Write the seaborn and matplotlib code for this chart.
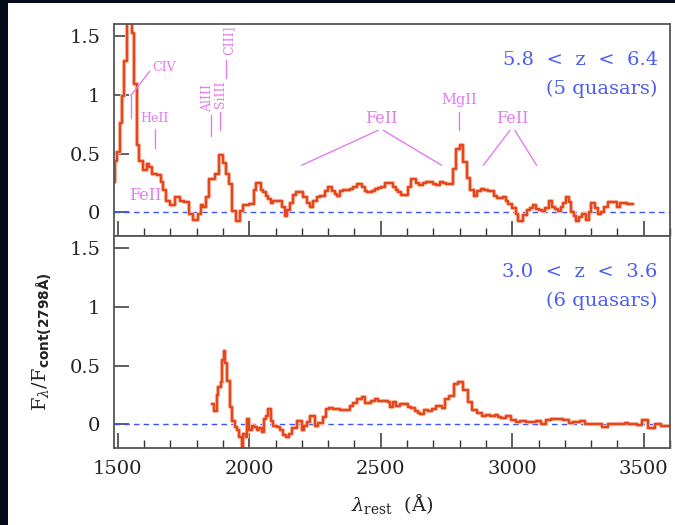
import matplotlib
matplotlib.use("Agg")
import matplotlib.pyplot as plt
import matplotlib.patheffects as pe
from matplotlib.patches import Rectangle
from matplotlib.ticker import MultipleLocator, FixedLocator, FixedFormatter
import seaborn as sns
import pandas as pd

# ---------------- data (left bin edges, composite flux) ----------------
top_wave = [1478, 1488, 1498, 1508, 1516, 1525, 1536, 1555, 1563, 1572, 1582, 1597,
            1610, 1619, 1629, 1648, 1664, 1673, 1682, 1698, 1717, 1737, 1753, 1772,
            1785, 1806, 1816, 1824, 1834, 1846, 1870, 1884, 1900, 1911, 1924, 1934,
            1950, 1966, 1975, 2000, 2018, 2026, 2043, 2053, 2064, 2072, 2081, 2091,
            2123, 2136, 2145, 2155, 2167, 2178, 2205, 2218, 2231, 2244, 2256, 2269,
            2288, 2301, 2313, 2326, 2335, 2345, 2358, 2383, 2396, 2408, 2427, 2440,
            2449, 2465, 2478, 2491, 2503, 2516, 2548, 2558, 2567, 2579, 2605, 2617,
            2634, 2647, 2662, 2674, 2700, 2712, 2725, 2738, 2750, 2773, 2788, 2801,
            2814, 2829, 2839, 2854, 2867, 2880, 2892, 2909, 2930, 2943, 2966, 2976,
            2985, 2998, 3014, 3023, 3042, 3055, 3067, 3080, 3092, 3102, 3115, 3124,
            3140, 3153, 3162, 3175, 3184, 3194, 3204, 3217, 3225, 3234, 3244, 3255,
            3267, 3280, 3293, 3301, 3314, 3327, 3336, 3348, 3365, 3381, 3399, 3409,
            3424, 3437]
top_flux = [0.26, 0.44, 0.51, 0.76, 0.99, 1.29, 1.75, 1.52, 1.09, 0.57, 0.44, 0.36,
            0.41, 0.39, 0.33, 0.32, 0.26, 0.19, 0.10, 0.06, 0.13, 0.10, 0.09, -0.01,
            -0.065, -0.01, 0.06, 0.05, 0.13, 0.28, 0.33, 0.49, 0.42, 0.33, 0.24, 0.01,
            -0.07, 0.01, 0.06, 0.07, 0.19, 0.25, 0.19, 0.17, 0.14, 0.11, 0.08, 0.10,
            0.05, -0.03, 0.02, 0.08, 0.15, 0.17, 0.13, 0.08, 0.05, 0.10, 0.13, 0.14,
            0.18, 0.22, 0.18, 0.16, 0.14, 0.18, 0.19, 0.20, 0.22, 0.24, 0.22, 0.18,
            0.17, 0.18, 0.20, 0.21, 0.22, 0.25, 0.22, 0.19, 0.17, 0.15, 0.22, 0.28,
            0.25, 0.23, 0.25, 0.26, 0.24, 0.23, 0.26, 0.25, 0.24, 0.37, 0.54, 0.57,
            0.43, 0.29, 0.19, 0.14, 0.18, 0.20, 0.19, 0.18, 0.14, 0.12, 0.13, 0.10,
            0.07, 0.04, -0.01, -0.07, -0.02, 0.02, 0.04, 0.06, 0.03, 0.025, 0.015, 0.04,
            0.10, 0.05, 0.03, 0.015, 0.05, 0.08, 0.13, 0.09, 0.005, -0.03, -0.07, -0.04,
            -0.01, -0.065, 0.0, 0.08, 0.04, -0.01, 0.0, 0.05, 0.085, 0.09, 0.05, 0.08,
            0.08, 0.07]
top_end = 3460

bot_wave = [1859, 1867, 1876, 1882, 1891, 1897, 1904, 1909, 1916, 1927, 1935, 1946,
            1952, 1962, 1971, 1977, 1986, 1990, 2000, 2009, 2018, 2028, 2038, 2047,
            2056, 2063, 2072, 2081, 2091, 2104, 2117, 2127, 2139, 2152, 2161, 2180,
            2190, 2199, 2208, 2218, 2231, 2250, 2262, 2281, 2292, 2304, 2319, 2332,
            2345, 2357, 2370, 2383, 2396, 2411, 2427, 2440, 2453, 2462, 2478, 2491,
            2529, 2535, 2545, 2558, 2573, 2605, 2617, 2630, 2643, 2649, 2664, 2681,
            2694, 2710, 2719, 2732, 2744, 2761, 2778, 2795, 2814, 2833, 2849, 2867,
            2884, 2900, 2915, 2934, 2947, 2956, 2976, 2997, 3014, 3029, 3054, 3090,
            3111, 3130, 3149, 3194, 3217, 3232, 3257, 3276, 3321, 3340, 3365, 3428,
            3441, 3454, 3475, 3495, 3517, 3542, 3564]
bot_flux = [0.17, 0.11, 0.25, 0.32, 0.36, 0.55, 0.62, 0.52, 0.37, 0.15, 0.03, -0.02,
            -0.05, -0.11, -0.25, -0.08, -0.11, 0.05, -0.05, -0.01, -0.02, -0.05, -0.03, -0.065,
            0.05, 0.07, 0.13, 0.03, -0.01, -0.02, -0.05, -0.09, -0.11, -0.08, -0.03, 0.03,
            0.03, -0.05, -0.01, 0.02, 0.07, -0.01, 0.01, 0.06, 0.13, 0.14, 0.13, 0.13,
            0.12, 0.12, 0.12, 0.16, 0.18, 0.22, 0.23, 0.18, 0.18, 0.20, 0.22, 0.20,
            0.19, 0.15, 0.19, 0.16, 0.17, 0.15, 0.14, 0.11, 0.10, 0.09, 0.12, 0.11,
            0.13, 0.16, 0.155, 0.14, 0.22, 0.24, 0.34, 0.36, 0.29, 0.19, 0.12, 0.10,
            0.07, 0.08, 0.07, 0.08, 0.06, 0.055, 0.07, 0.04, 0.02, 0.03, 0.02, 0.03,
            0.00, 0.04, 0.05, 0.04, 0.01, 0.02, 0.03, 0.005, 0.0, -0.02, 0.006, 0.01,
            0.005, 0.0, -0.005, 0.035, -0.03, 0.005, -0.015]
bot_end = 3610

panel_text = [("5.8  <  z  <  6.4", "(5 quasars)"), ("3.0  <  z  <  3.6", "(6 quasars)")]
yticks = [0, 0.5, 1, 1.5]
ytick_labels = ["0", "0.5", "1", "1.5"]

# ---------------- style ----------------
sns.set_theme(style="ticks")
plt.rcParams["font.family"] = ["DejaVu Serif"]
plt.rcParams["mathtext.fontset"] = "custom"
plt.rcParams["mathtext.rm"] = "DejaVu Serif"
plt.rcParams["mathtext.it"] = "DejaVu Serif:italic"
plt.rcParams["mathtext.bf"] = "DejaVu Sans:bold"

DARK = "#050a1c"
SPEC = "#e5461b"
HALO = "#f8c2ad"
BLUE = "#4b5cf2"
VIOL = "#e47cf0"
SPINE = "#555555"

W, H = 675, 525
fig = plt.figure(figsize=(W / 100, H / 100), dpi=100)
fig.patch.set_facecolor(DARK)
fig.add_artist(Rectangle((7.5 / W, 0), 1 - 7.5 / W, 1 - 3 / H, transform=fig.transFigure,
                         facecolor="white", edgecolor="none", zorder=0))

left, right = 114.3 / W, 670 / W
ax_top = fig.add_axes([left, 1 - 236 / H, right - left, 212 / H])
ax_bot = fig.add_axes([left, 1 - 448 / H, right - left, 212 / H])

def spectrum(ax, wave, flux, end):
    df = pd.DataFrame({"wave": list(wave) + [end], "flux": list(flux) + [flux[-1]]})
    sns.lineplot(data=df, x="wave", y="flux", ax=ax, drawstyle="steps-post",
                 color=SPEC, lw=1.7, estimator=None, sort=False,
                 path_effects=[pe.Stroke(linewidth=3.0, foreground=HALO), pe.Normal()])

spectrum(ax_top, top_wave, top_flux, top_end)
spectrum(ax_bot, bot_wave, bot_flux, bot_end)

for ax, (l1, l2) in zip([ax_top, ax_bot], panel_text):
    ax.set_facecolor("white")
    ax.axhline(0, color="#3a55ff", lw=1.0, ls=(0, (4, 3)), zorder=1)
    ax.set_xlim(1487, 3600)
    ax.set_ylim(-0.2, 1.6)
    ax.yaxis.set_major_locator(FixedLocator(yticks))
    ax.yaxis.set_major_formatter(FixedFormatter(ytick_labels))
    ax.xaxis.set_major_locator(MultipleLocator(500))
    ax.xaxis.set_minor_locator(MultipleLocator(100))
    ax.yaxis.set_minor_locator(FixedLocator([]))
    ax.tick_params(axis="both", which="major", direction="in", length=11, width=1.1,
                   color="#333333", labelsize=14, labelcolor="#222222",
                   bottom=True, left=True, top=False, right=False)
    ax.tick_params(axis="x", which="minor", direction="in", length=5.5, width=1.0,
                   color="#333333", bottom=True, top=False)
    ax.tick_params(axis="y", which="major", pad=10)
    ax.tick_params(axis="x", which="major", pad=9)
    for s in ax.spines.values():
        s.set_visible(True)
        s.set_color(SPINE)
        s.set_linewidth(1.3)
    ax.set_xlabel("")
    ax.set_ylabel("")
    ax.text(0.978, 0.830, l1, transform=ax.transAxes, ha="right", va="center",
            fontsize=14, color=BLUE)
    ax.text(0.978, 0.693, l2, transform=ax.transAxes, ha="right", va="center",
            fontsize=14, color=BLUE)

ax_top.tick_params(labelbottom=False)

ax_bot.set_xlabel(r"$\lambda_{\mathrm{rest}}$  (Å)", fontsize=14, color="#222222", labelpad=10)
ax_bot.set_ylabel(r"$\mathrm{F}_{\lambda}/\mathrm{F}_{\mathbf{cont(2798Å)}}$",
                  fontsize=14, color="#222222", labelpad=12)

# ---------------- line identifications (top panel) ----------------
lk = dict(color=VIOL, lw=1.0, zorder=3)
tk = dict(color=VIOL, ha="center", va="center")
a = ax_top
a.plot([1549, 1549], [0.80, 0.99], **lk)
a.plot([1549, 1622], [0.99, 1.20], **lk)
a.text(1630, 1.234, "CIV", fontsize=9, color=VIOL, ha="left", va="center")
a.plot([1640, 1640], [0.55, 0.71], **lk)
a.text(1640, 0.80, "HeII", fontsize=9, **tk)
a.text(1607, 0.147, "FeII", fontsize=11.5, **tk)
a.plot([1855, 1855], [0.646, 0.824], **lk)
a.text(1842, 0.85, "AlIII", fontsize=9, color=VIOL, rotation=90, ha="center", va="bottom")
a.plot([1889, 1889], [0.697, 0.850], **lk)
a.text(1889, 0.89, "SiIII", fontsize=9, color=VIOL, rotation=90, ha="center", va="bottom")
a.plot([1910, 1910], [1.138, 1.298], **lk)
a.text(1921, 1.333, "CIII]", fontsize=9, color=VIOL, rotation=90, ha="center", va="bottom")
a.text(2501, 0.80, "FeII", fontsize=11.5, **tk)
a.plot([2199, 2490], [0.40, 0.697], **lk)
a.plot([2510, 2732], [0.697, 0.40], **lk)
a.text(2797, 0.957, "MgII", fontsize=10.5, **tk)
a.plot([2798, 2798], [0.697, 0.849], **lk)
a.text(3001, 0.80, "FeII", fontsize=11.5, **tk)
a.plot([2991, 2890], [0.697, 0.40], **lk)
a.plot([3010, 3093], [0.697, 0.40], **lk)

fig.savefig("out.png", dpi=100, facecolor=fig.get_facecolor())
